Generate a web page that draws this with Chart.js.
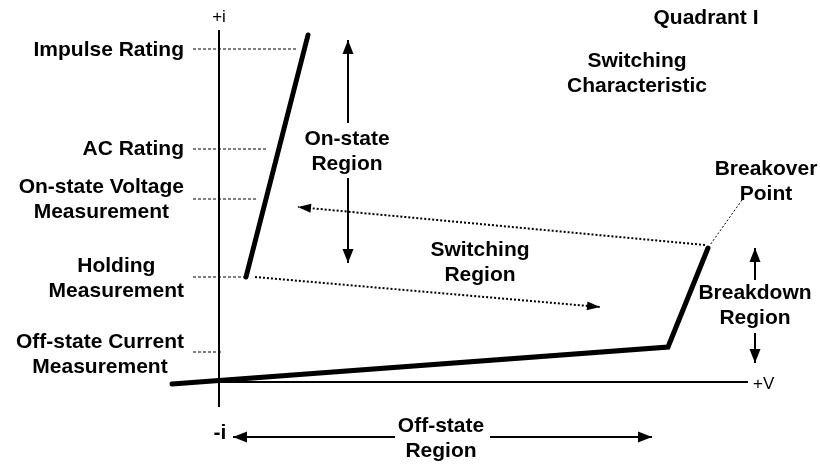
<!DOCTYPE html>
<html>
<head>
<meta charset="utf-8">
<script src="https://cdn.jsdelivr.net/npm/chart.js@4/dist/chart.umd.min.js"></script>
<style>
  html, body { margin: 0; padding: 0; background: #fff; }
  #wrap { width: 820px; height: 464px; position: relative; }
</style>
</head>
<body>
<div id="wrap"><canvas id="chart"></canvas></div>
<script>
// 坐标单位：原点在两轴交点，v 向右，i 向上
const FONT = '"Liberation Sans", Arial, Helvetica, sans-serif';

// 开关特性曲线
const offStateCurve = [[-47, -2], [449, 35], [489, 134]];
const onStateCurve = [[27, 105], [89, 347]];

// 坐标轴
const axisI = [[0, -25], [0, 352]];
const axisV = [[0, 0], [529, 0]];

// 左侧参考虚线（电流水平）
const refStart = -26;
const refLevels = [333, 233, 183, 105, 30];
const refEnds = [79, 48, 39, 27, 3];

// 箭头
const onStateUp = [[129, 259], [129, 342]];
const onStateDown = [[129, 204], [129, 119]];
const breakdownUp = [[536, 102], [536, 134]];
const breakdownDown = [[536, 49], [536, 19]];
const offStateLeft = [[176, -55], [14, -55]];
const offStateRight = [[271, -55], [433, -55]];
const switchBack = [[486, 137], [79, 175]];
const switchOn = [[36, 105], [381, 75]];
const breakoverLeader = [[523, 182], [491, 137]];

// 文字标注: [文字行, v, i, 对齐, 字体]
const labels = [
    [['+i'], 0, 365, 'center', '17px'],
    [['Impulse Rating'], -35, 332, 'block', 'bold 21px'],
    [['AC Rating'], -35, 233, 'block', 'bold 21px'],
    [['On-state Voltage', 'Measurement'], -35, 182, 'block', 'bold 21px'],
    [['Holding', 'Measurement'], -35, 103, 'block', 'bold 21px'],
    [['Off-state Current', 'Measurement'], -35, 27, 'block', 'bold 21px'],
    [['Quadrant I'], 487, 364, 'center', 'bold 21px'],
    [['Switching', 'Characteristic'], 418, 308, 'center', 'bold 21px'],
    [['Breakover', 'Point'], 547, 200, 'center', 'bold 21px'],
    [['On-state', 'Region'], 128, 230, 'center', 'bold 21px'],
    [['Switching', 'Region'], 261, 119, 'center', 'bold 21px'],
    [['Breakdown', 'Region'], 536, 76, 'center', 'bold 21px'],
    [['Off-state', 'Region'], 222, -57, 'center', 'bold 21px'],
    [['-i'], 1, -51, 'center', 'bold 21px'],
    [['+V'], 534, -2, 'left', '17px']
];
const LINE_H = 25;

function pts(arr) {
    return arr.map(p => ({ x: p[0], y: p[1] }));
}

function line(arr, extra) {
    return Object.assign({
        data: pts(arr),
        showLine: true,
        pointRadius: 0,
        pointHoverRadius: 0,
        borderColor: '#000',
        backgroundColor: '#000',
        fill: false,
        clip: false
    }, extra);
}

const datasets = [];
datasets.push(line(axisI, { borderWidth: 2 }));
datasets.push(line(axisV, { borderWidth: 2 }));
refLevels.forEach((lv, k) => {
    datasets.push(line([[refStart, lv], [refEnds[k], lv]], { borderWidth: 1, borderDash: [3, 2] }));
});
datasets.push(line(offStateCurve, { borderWidth: 5, borderCapStyle: 'round', borderJoinStyle: 'miter' }));
datasets.push(line(onStateCurve, { borderWidth: 5, borderCapStyle: 'round' }));
[onStateUp, onStateDown, breakdownUp, breakdownDown, offStateLeft, offStateRight].forEach(a => {
    datasets.push(line(a, { borderWidth: 2, arrowHead: [14, 5.5] }));
});
[switchBack, switchOn].forEach(a => {
    datasets.push(line(a, { borderWidth: 2, borderDash: [2, 2], arrowHead: [13, 4.5] }));
});
datasets.push(line(breakoverLeader, { borderWidth: 1, borderDash: [2, 2] }));

// 箭头与文字
const overlay = {
    id: 'overlay',
    afterDatasetsDraw(chart) {
        const ctx = chart.ctx;
        chart.data.datasets.forEach((ds, i) => {
            if (!ds.arrowHead) return;
            const d = chart.getDatasetMeta(i).data;
            const a = d[d.length - 2], b = d[d.length - 1];
            const ang = Math.atan2(b.y - a.y, b.x - a.x);
            const [len, hw] = ds.arrowHead;
            ctx.save();
            ctx.translate(b.x, b.y);
            ctx.rotate(ang);
            ctx.beginPath();
            ctx.moveTo(0, 0);
            ctx.lineTo(-len, -hw);
            ctx.lineTo(-len, hw);
            ctx.closePath();
            ctx.fillStyle = '#000';
            ctx.fill();
            ctx.restore();
        });

        const xs = chart.scales.x, ys = chart.scales.y;
        ctx.save();
        ctx.fillStyle = '#000';
        ctx.textBaseline = 'middle';
        labels.forEach(([lines, v, i, align, font]) => {
            ctx.font = font + ' ' + FONT;
            const px = xs.getPixelForValue(v);
            const py = ys.getPixelForValue(i);
            const top = py - (lines.length - 1) * LINE_H / 2;
            let cx = px;
            if (align === 'block') {
                const w = Math.max(...lines.map(t => ctx.measureText(t).width));
                cx = px - w / 2;
            }
            ctx.textAlign = align === 'left' ? 'left' : 'center';
            lines.forEach((t, k) => ctx.fillText(t, cx, top + k * LINE_H));
        });
        ctx.restore();
    }
};

new Chart(document.getElementById('chart'), {
    type: 'scatter',
    data: { datasets: datasets },
    options: {
        responsive: true,
        maintainAspectRatio: false,
        animation: false,
        layout: { padding: 0 },
        plugins: { legend: { display: false }, tooltip: { enabled: false }, colors: { enabled: false } },
        scales: {
            x: { type: 'linear', min: -219, max: 601, display: false },
            y: { type: 'linear', min: -82, max: 382, display: false }
        }
    },
    plugins: [overlay]
});
</script>
</body>
</html>
